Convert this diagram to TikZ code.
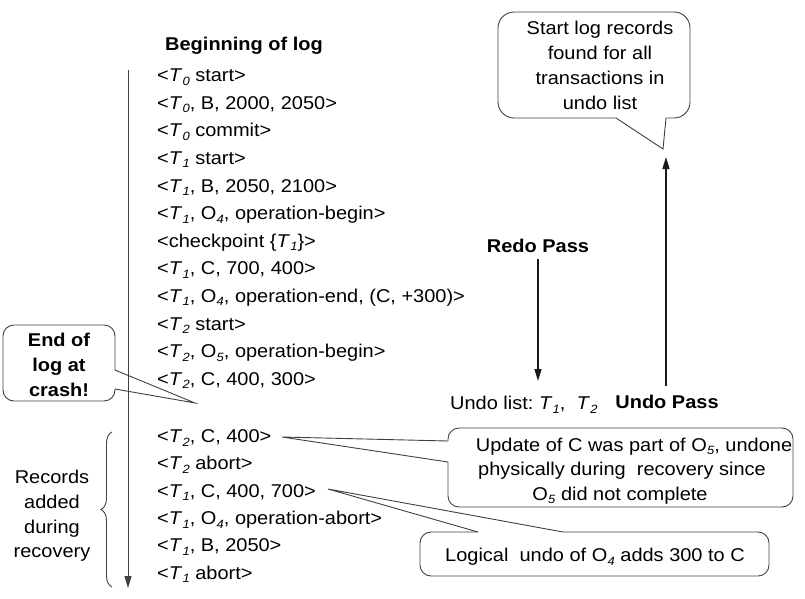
\documentclass[tikz,border=0pt]{standalone}
\usepackage{fontspec}
\setmainfont{Liberation Sans}[FakeStretch=1.08]
\usetikzlibrary{arrows.meta,decorations.pathreplacing}
\newcommand\Tn[1]{\textit{T}\kern0.3pt\raisebox{-3.5pt}{\fontsize{12}{12}\selectfont\itshape #1}}
\newcommand\On[1]{O\kern0.3pt\raisebox{-3.5pt}{\fontsize{12}{12}\selectfont\itshape #1}}
\begin{document}
\begin{tikzpicture}[x=1pt,y=-1pt,
  every node/.style={inner sep=0pt, font=\fontsize{18.5}{25}\selectfont},
  logline/.style={anchor=base west},
  txt/.style={anchor=base},
  btxt/.style={anchor=base, font=\fontsize{18.5}{25}\selectfont\bfseries},
  arr/.style={line width=1.2pt, draw=black!90, -{Triangle[length=12pt,width=7pt]}},
  box/.style={line width=0.9pt, draw=black!75, rounded corners=12pt},
  ptr/.style={line width=0.9pt, draw=black!75}]
\useasboundingbox (0,0) rectangle (805,599);

% heading
\node[btxt] (head) at (244,50.6) {Beginning of log};

% log records
\node[logline] (l0) at (157,81.6) {<\Tn{0} start>};
\node[logline] (l1) at (157,109.2) {<\Tn{0}, B, 2000, 2050>};
\node[logline] (l2) at (157,136.8) {<\Tn{0} commit>};
\node[logline] (l3) at (157,164.4) {<\Tn{1} start>};
\node[logline] (l4) at (157,192) {<\Tn{1}, B, 2050, 2100>};
\node[logline] (l5) at (157,219.6) {<\Tn{1}, \On{4}, operation-begin>};
\node[logline] (l6) at (157,247.2) {<checkpoint \{\Tn{1}\}>};
\node[logline] (l7) at (157,274.8) {<\Tn{1}, C, 700, 400>};
\node[logline] (l8) at (157,302.4) {<\Tn{1}, \On{4}, operation-end, (C, +300)>};
\node[logline] (l9) at (157,330) {<\Tn{2} start>};
\node[logline] (l10) at (157,357.6) {<\Tn{2}, \On{5}, operation-begin>};
\node[logline] (l11) at (157,385.2) {<\Tn{2}, C, 400, 300>};
\node[logline] (l12) at (157,442.6) {<\Tn{2}, C, 400>};
\node[logline] (l13) at (157,469.9) {<\Tn{2} abort>};
\node[logline] (l14) at (157,497.2) {<\Tn{1}, C, 400, 700>};
\node[logline] (l15) at (157,524.5) {<\Tn{1}, \On{4}, operation-abort>};
\node[logline] (l16) at (157,551.8) {<\Tn{1}, B, 2050>};
\node[logline] (l17) at (157,579.1) {<\Tn{1} abort>};

% log direction arrow
\coordinate (logtop) at (128,70);
\coordinate (logbot) at (128,588);
\draw[arr, line width=1pt, draw=black!75] (logtop) -- (logbot);

% brace and label
\coordinate (brb) at (112,587);
\coordinate (brt) at (112,432);
\draw[line width=0.9pt, draw=black!75, decorate, decoration={brace, amplitude=11pt}] (brb) -- (brt);
\node[txt] (rec1) at (52,483.6) {Records};
\node[txt] (rec2) at (52,508.6) {added};
\node[txt] (rec3) at (52,533.6) {during};
\node[txt] (rec4) at (52,557.6) {recovery};

% End of log callout
\node[btxt] (end1) at (59,346.6) {End of};
\node[btxt] (end2) at (59,371.6) {log at};
\node[btxt] (end3) at (59,396.6) {crash!};
\coordinate (endtip) at (195,403);
\draw[box, rounded corners=11pt] (115,370) -- (115,325) -- (3,325) -- (3,401) -- (115,401) -- (115,389);
\draw[ptr] (115,370) -- (endtip) -- (115,389);

% Redo pass
\node[btxt] (redo) at (538,252.6) {Redo Pass};
\coordinate (redotop) at (538,259);
\coordinate (redobot) at (538,381);
\draw[arr] (redotop) -- (redobot);
\node[logline] (undolist) at (450,409.6) {Undo list:\ \Tn{1},\ \ \Tn{2}};

% Undo pass
\node[btxt] (undo) at (667,408.6) {Undo Pass};
\coordinate (undobot) at (666,386);
\coordinate (undotop) at (666,157);
\draw[arr] (undobot) -- (undotop);

% Start log records callout
\node[txt] (st1) at (600,34.6) {Start log records};
\node[txt] (st2) at (600,59.6) {found for all};
\node[txt] (st3) at (600,84.6) {transactions in};
\node[txt] (st4) at (600,109.6) {undo list};
\coordinate (sttip) at (663,149);
\draw[box, rounded corners=16pt] (616,118) -- (498,118) -- (498,12) -- (690,12) -- (690,118) -- (666,118);
\draw[ptr] (616,118) -- (sttip) -- (666,118);

% Update of C callout
\node[txt] (up1) at (634,451) {Update of C was part of \On{5}, undone};
\node[txt] (up2) at (622,475.5) {physically during\ \ recovery since};
\node[txt] (up3) at (620,500) {\On{5} did not complete};
\coordinate (uptip) at (282,437);
\draw[box, rounded corners=11pt] (448,462) -- (448,507) -- (793,507) -- (793,428) -- (448,428) -- (448,441);
\draw[ptr] (448,441) -- (uptip) -- (448,462);

% Logical undo callout
\node[txt] (lu) at (595,561.6) {Logical\ \ undo of \On{4} adds 300 to C};
\coordinate (lutip) at (328,489);
\draw[box, rounded corners=11pt] (563,532) -- (769,532) -- (769,576) -- (420,576) -- (420,532) -- (478,532);
\draw[ptr] (478,532) -- (lutip) -- (563,532);
\end{tikzpicture}
\end{document}
